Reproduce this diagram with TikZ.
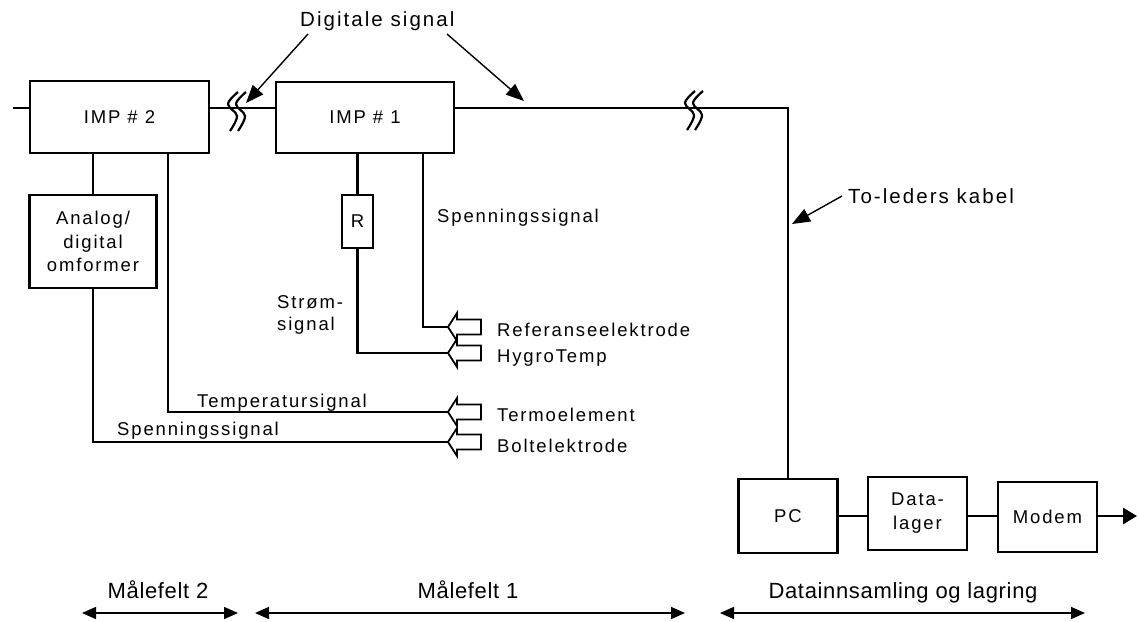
\documentclass[tikz,border=0pt]{standalone}
\usepackage{fontspec}
\setmainfont{Liberation Sans}[LetterSpace=10]
\newfontfamily\spanfamily{Liberation Sans}[LetterSpace=3]
\usetikzlibrary{arrows.meta}
\newcommand\lblfont{\fontsize{18.5}{20}\selectfont}
\newcommand\bigfont{\fontsize{20.5}{22}\selectfont}
\newcommand\spanfont{\spanfamily\fontsize{22}{24}\selectfont}
\newcommand\breakmark[2]{%
  \draw[wire, line width=2.2pt] plot[smooth, tension=0.6] coordinates {(#1+11,#2-17) (#1+1,#2-5) (#1+10,#2+7) (#1+3,#2+22)};
  \draw[wire, line width=2.2pt] plot[smooth, tension=0.6] coordinates {(#1+19,#2-17) (#1+9,#2-5) (#1+18,#2+7) (#1+11,#2+22)};}
\newcommand\blockarrowat[2]{%
  \coordinate (#1) at #2;}
\begin{document}
\begin{tikzpicture}[x=1pt,y=-1pt,
  every node/.style={font=\lblfont, inner sep=0pt},
  box/.style={draw, line width=2.6pt, align=center},
  wire/.style={line width=2.8pt},
  barrow/.style={draw, line width=1.8pt, fill=white, line join=miter},
  ptr/.style={line width=1.4pt, -{Triangle[length=18pt, width=14pt]}},
  span/.style={line width=1.6pt, {Triangle[length=14pt, width=12pt]}-{Triangle[length=14pt, width=12pt]}},
  lbl/.style={anchor=base west}]
\useasboundingbox (0,0) rectangle (1139,621);

% boxes
\node[box, minimum width=179, minimum height=72] (imp2) at (119.5,117) {IMP \# 2};
\node[box, minimum width=178, minimum height=71] (imp1) at (365,117.5) {IMP \# 1};
\node[box, minimum width=127, minimum height=93, font=\fontsize{18.5}{23.5}\selectfont] (ad) at (93,241.5) {Analog/\\digital\\omformer};
\node[box, minimum width=31, minimum height=53] (r) at (357.5,221.5) {R};
\node[box, minimum width=99, minimum height=74] (pc) at (788,516) {PC};
\node[box, minimum width=99, minimum height=73, font=\fontsize{18.5}{24}\selectfont] (dl) at (917.5,513.5) {Data-\\lager};
\node[box, minimum width=99, minimum height=70] (modem) at (1047.5,517) {Modem};

% helper coordinates
\coordinate (wy) at (0,108);
\coordinate (stub) at (13,108);
\coordinate (corner) at (788,108);
\coordinate (xt) at (168,0);
\coordinate (xs) at (423,0);
\coordinate (out) at (1137,516);

% sensor arrow tips
\blockarrowat{ref}{(448,327)}
\blockarrowat{hyg}{(448,353)}
\blockarrowat{term}{(448,412)}
\blockarrowat{bolt}{(448,442)}

% main wiring
\draw[wire] (imp2.west |- wy) -- (stub);
\draw[wire] (imp2.east |- wy) -- (imp1.west |- wy);
\draw[wire] (imp1.east |- wy) -- (corner) -- (pc.north);
\draw[wire] (pc.east) -- (dl.west |- pc.east);
\draw[wire] (dl.east |- pc.east) -- (modem.west |- pc.east);
\draw[wire, -{Triangle[length=14pt, width=16pt]}] (modem.east |- pc.east) -- (out);

% break marks
\breakmark{227}{109}
\breakmark{684}{108}

% IMP 2 branches
\draw[wire] (imp2.south -| ad.north) -- (ad.north);
\draw[wire] (ad.south) -- (ad.south |- bolt) -- (bolt);
\draw[wire] (imp2.south -| xt) -- (xt |- term) -- (term);

% IMP 1 branches
\draw[wire] (imp1.south -| r.north) -- (r.north);
\draw[wire] (r.south) -- (r.south |- hyg) -- (hyg);
\draw[wire] (imp1.south -| xs) -- (xs |- ref) -- (ref);

% block arrows on top
\draw[barrow] (ref) -- ++(9,-14) -- ++(0,6.5) -- ++(24,0) -- ++(0,15) -- ++(-24,0) -- ++(0,6.5) -- cycle;
\draw[barrow] (hyg) -- ++(9,-14) -- ++(0,6.5) -- ++(24,0) -- ++(0,15) -- ++(-24,0) -- ++(0,6.5) -- cycle;
\draw[barrow] (term) -- ++(9,-14) -- ++(0,6.5) -- ++(24,0) -- ++(0,15) -- ++(-24,0) -- ++(0,6.5) -- cycle;
\draw[barrow] (bolt) -- ++(9,-14) -- ++(0,6.5) -- ++(24,0) -- ++(0,15) -- ++(-24,0) -- ++(0,6.5) -- cycle;

% sensor labels
\node[lbl] (tref) at (497,336) {Referanseelektrode};
\node[lbl] (thyg) at (497,362) {HygroTemp};
\node[lbl] (tterm) at (497,421) {Termoelement};
\node[lbl] (tbolt) at (497,452) {Boltelektrode};

% signal labels
\node[lbl] (sp1) at (437,222) {Spenningssignal};
\node[lbl, align=left, font=\fontsize{18.5}{22}\selectfont] (strom) at (277,330) {Strøm-\\signal};
\node[lbl] (temp) at (197,407) {Temperatursignal};
\node[lbl] (sp2) at (117,435) {Spenningssignal};

% pointer annotations
\node[lbl, font=\bigfont] (dig) at (300,27) {Digitale signal};
\coordinate (d1s) at (308,34);
\coordinate (d1e) at (246,103);
\coordinate (d2s) at (447,34);
\coordinate (d2e) at (524,101);
\draw[ptr] (d1s) -- (d1e);
\draw[ptr] (d2s) -- (d2e);

\node[lbl, font=\bigfont] (tol) at (848,203) {To-leders kabel};
\coordinate (t1s) at (842,196);
\coordinate (t1e) at (792,224);
\draw[ptr] (t1s) -- (t1e);

% bottom spans
\coordinate (m2a) at (82,613);
\coordinate (m2b) at (238,613);
\coordinate (m1a) at (255,613);
\coordinate (m1b) at (685,613);
\coordinate (dsa) at (720,613);
\coordinate (dsb) at (1085,613);
\draw[span] (m2a) -- (m2b);
\draw[span] (m1a) -- (m1b);
\draw[span] (dsa) -- (dsb);
\node[anchor=base, font=\spanfont] (lm2) at (158,598) {Målefelt 2};
\node[anchor=base, font=\spanfont] (lm1) at (468,598) {Målefelt 1};
\node[anchor=base, font=\spanfont] (lds) at (903,598) {Datainnsamling og lagring};
\end{tikzpicture}
\end{document}
